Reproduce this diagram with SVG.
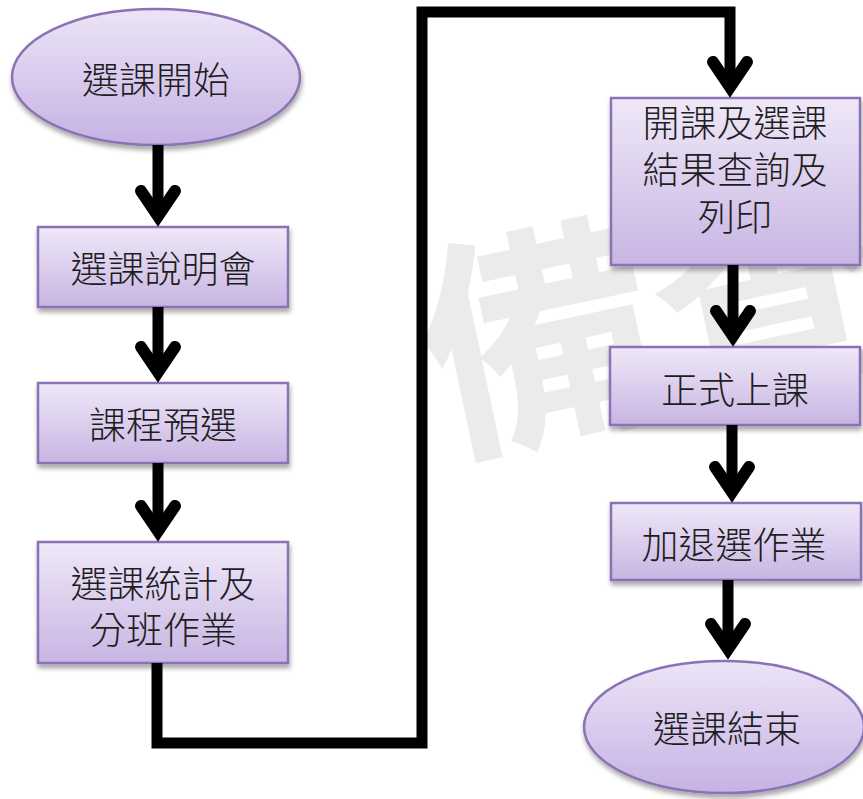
<svg xmlns="http://www.w3.org/2000/svg" width="863" height="799" viewBox="0 0 863 799">
<defs>
<linearGradient id="gBox" x1="0" y1="0" x2="0" y2="1">
<stop offset="0" stop-color="#EFE8F8"/>
<stop offset="1" stop-color="#C8B5E3"/>
</linearGradient>
<linearGradient id="gEll" x1="0" y1="0" x2="0" y2="1">
<stop offset="0" stop-color="#ECE4F7"/>
<stop offset="1" stop-color="#C6B2E4"/>
</linearGradient>
<filter id="sh" x="-10%" y="-10%" width="125%" height="135%">
<feGaussianBlur in="SourceAlpha" stdDeviation="2.5"/>
<feOffset dx="1" dy="4" result="b"/>
<feComponentTransfer><feFuncA type="linear" slope="0.35"/></feComponentTransfer>
<feMerge><feMergeNode/><feMergeNode in="SourceGraphic"/></feMerge>
</filter>
<marker id="ah" markerUnits="userSpaceOnUse" markerWidth="60" markerHeight="60" viewBox="-50 -30 60 60" refX="-10" refY="0" orient="auto" overflow="visible">
<path d="M -36 -17 L -11 0 L -36 17" fill="none" stroke="#000" stroke-width="12" stroke-linecap="round" stroke-linejoin="miter"/>
</marker>
</defs>
<style>
.box{fill:url(#gBox);stroke:#8A72B4;stroke-width:2.5;filter:url(#sh)}
.ell{fill:url(#gEll);stroke:#8A72B4;stroke-width:2.5;filter:url(#sh)}
.t{font-family:"Noto Sans CJK TC","Noto Sans CJK SC",sans-serif;font-size:37px;font-weight:300;fill:#1e1e1e;text-anchor:middle;dominant-baseline:central}
.c{fill:none;stroke:#000;stroke-width:11}
.wm{font-family:"Noto Sans CJK TC","Noto Sans CJK SC",sans-serif;font-size:235px;font-weight:bold;fill:#ebebeb;text-anchor:middle;dominant-baseline:central}
</style>
<rect width="863" height="799" fill="#fff"/>
<text class="wm" x="650" y="300" transform="rotate(-12 650 300)">備查</text>
<g id="n-start"><ellipse class="ell" cx="156" cy="77" rx="144" ry="68"/><text class="t" x="156" y="78">選課開始</text></g>
<g id="n-briefing"><rect class="box" x="38" y="227" width="250" height="80"/><text class="t" x="163" y="267">選課說明會</text></g>
<g id="n-presel"><rect class="box" x="38" y="383" width="250" height="80"/><text class="t" x="163" y="423">課程預選</text></g>
<g id="n-stats"><rect class="box" x="38" y="542" width="250" height="121"/><text class="t"><tspan x="163" y="582">選課統計及</tspan><tspan x="163" y="628">分班作業</tspan></text></g>
<g id="n-query"><rect class="box" x="611" y="98" width="249" height="167"/><text class="t"><tspan x="735" y="121">開課及選課</tspan><tspan x="735" y="168">結果查詢及</tspan><tspan x="735" y="215">列印</tspan></text></g>
<g id="n-class"><rect class="box" x="610" y="347" width="250" height="78"/><text class="t" x="735" y="388">正式上課</text></g>
<g id="n-adddrop"><rect class="box" x="611" y="503" width="250" height="77"/><text class="t" x="734" y="543">加退選作業</text></g>
<g id="n-end"><ellipse class="ell" cx="724" cy="727" rx="140" ry="66"/><text class="t" x="727" y="727">選課結束</text></g>
<g id="connectors">
<path class="c" d="M158 145 L158 217" marker-end="url(#ah)"/>
<path class="c" d="M158 307 L158 373" marker-end="url(#ah)"/>
<path class="c" d="M158 463 L158 532" marker-end="url(#ah)"/>
<path class="c" d="M157 663 L157 743 L422 743 L422 12 L730 12 L730 88" stroke-linejoin="miter" marker-end="url(#ah)"/>
<path class="c" d="M733 265 L733 337" marker-end="url(#ah)"/>
<path class="c" d="M732 425 L732 493" marker-end="url(#ah)"/>
<path class="c" d="M728 580 L728 650" marker-end="url(#ah)"/>
</g>
</svg>
